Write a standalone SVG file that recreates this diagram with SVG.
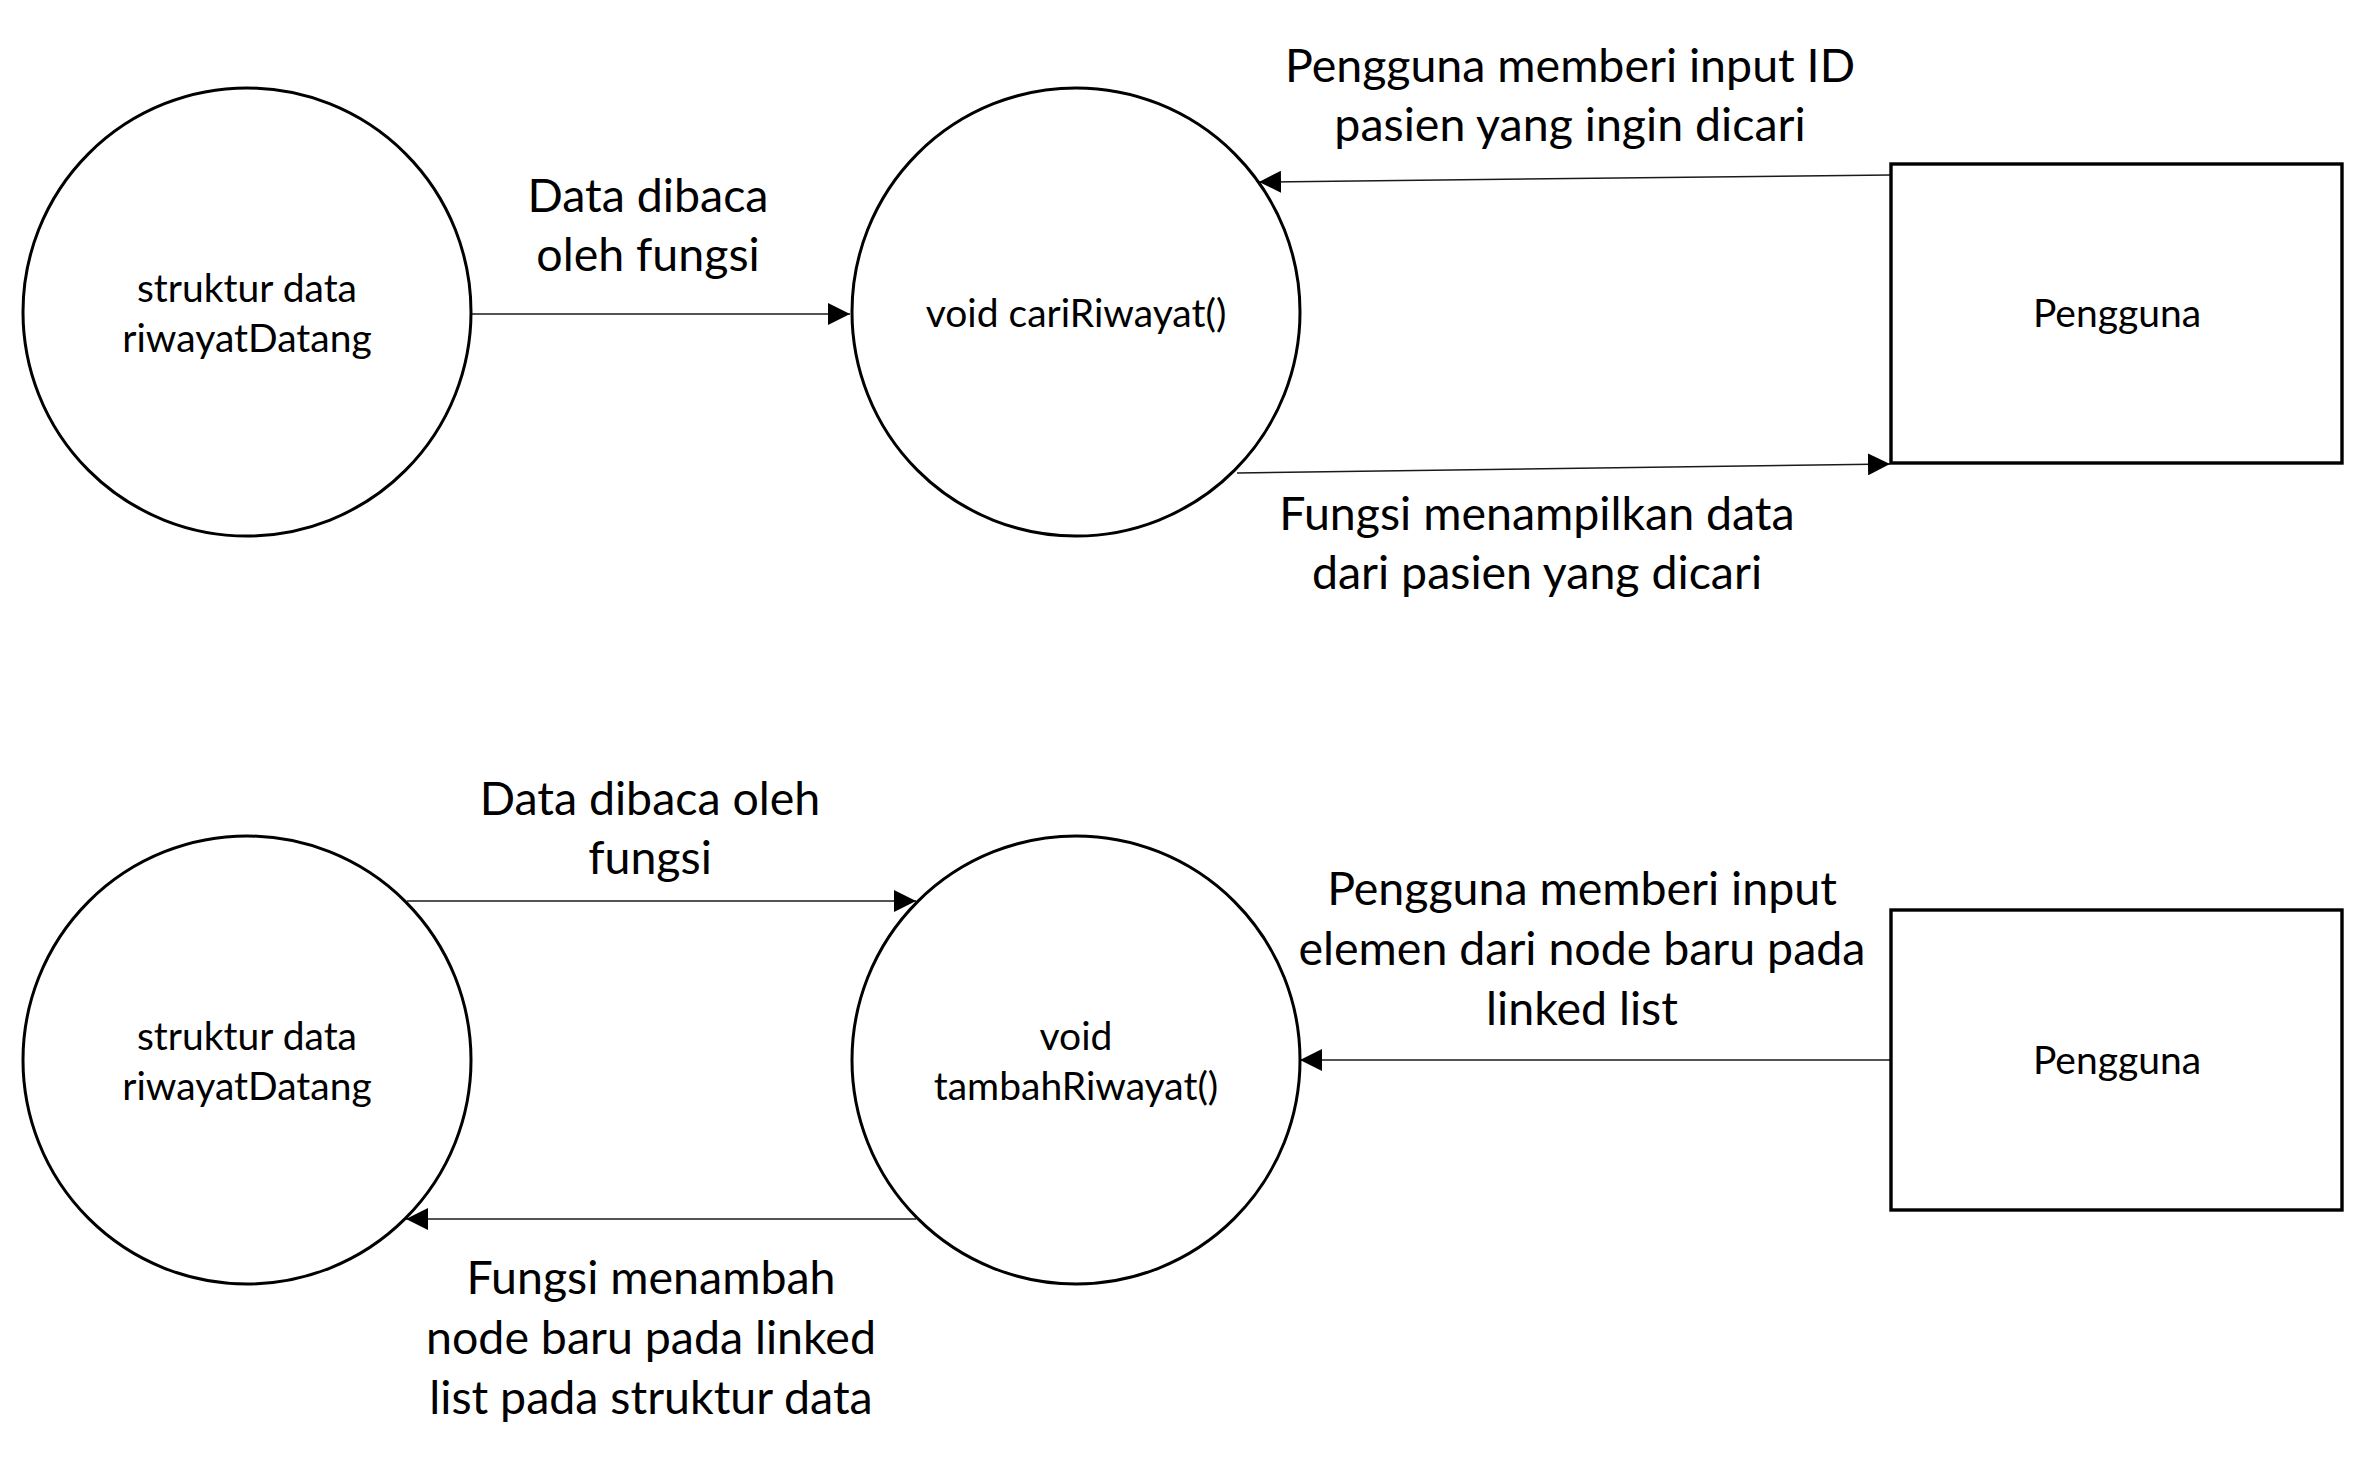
<svg xmlns="http://www.w3.org/2000/svg" width="2363" height="1473" viewBox="0 0 2363 1473">
<style>
.bg{fill:#ffffff}
.proc{fill:#ffffff;stroke:#000000;stroke-width:3}
.ent{fill:#ffffff;stroke:#000000;stroke-width:3.4}
.conn{fill:none;stroke:#1a1a1a;stroke-width:1.5;marker-end:url(#arr)}
.nt{font-family:Lato,"Liberation Sans",sans-serif;font-size:39px;fill:#000000;text-anchor:middle}
.lt{font-family:Lato,"Liberation Sans",sans-serif;font-size:46.5px;fill:#000000;text-anchor:middle}
</style>
<defs>
<marker id="arr" viewBox="0 0 22 22" refX="22" refY="11" markerWidth="22" markerHeight="22" markerUnits="userSpaceOnUse" orient="auto">
<path d="M0,0 L22,11 L0,22 Z" fill="#000000"/>
</marker>
</defs>
<rect class="bg" x="0" y="0" width="2363" height="1473"/>
<g id="connectors">
<line class="conn" x1="472" y1="314" x2="850" y2="314"/>
<line class="conn" x1="1890" y1="175" x2="1259" y2="182"/>
<line class="conn" x1="1237" y1="473" x2="1890" y2="464"/>
<line class="conn" x1="407" y1="901" x2="916" y2="901"/>
<line class="conn" x1="916" y1="1219" x2="406" y2="1219"/>
<line class="conn" x1="1891" y1="1060" x2="1300" y2="1060"/>
</g>
<g id="labels">
<text class="lt" x="648" y="212">Data dibaca</text>
<text class="lt" x="648" y="271">oleh fungsi</text>
<text class="lt" x="1570" y="82">Pengguna memberi input ID</text>
<text class="lt" x="1570" y="141">pasien yang ingin dicari</text>
<text class="lt" x="1537" y="530">Fungsi menampilkan data</text>
<text class="lt" x="1537" y="589">dari pasien yang dicari</text>
<text class="lt" x="650" y="815">Data dibaca oleh</text>
<text class="lt" x="650" y="874">fungsi</text>
<text class="lt" x="1582" y="905">Pengguna memberi input</text>
<text class="lt" x="1582" y="965">elemen dari node baru pada</text>
<text class="lt" x="1582" y="1025">linked list</text>
<text class="lt" x="651" y="1294">Fungsi menambah</text>
<text class="lt" x="651" y="1354">node baru pada linked</text>
<text class="lt" x="651" y="1414">list pada struktur data</text>
</g>
<g id="node-struktur-1">
<circle class="proc" cx="247" cy="312" r="224"/>
<text class="nt" x="247" y="302">struktur data</text>
<text class="nt" x="247" y="352">riwayatDatang</text>
</g>
<g id="node-cariRiwayat">
<circle class="proc" cx="1076" cy="312" r="224"/>
<text class="nt" x="1076" y="327">void cariRiwayat()</text>
</g>
<g id="node-pengguna-1">
<rect class="ent" x="1891" y="164" width="451" height="299"/>
<text class="nt" x="2117" y="327">Pengguna</text>
</g>
<g id="node-struktur-2">
<circle class="proc" cx="247" cy="1060" r="224"/>
<text class="nt" x="247" y="1050">struktur data</text>
<text class="nt" x="247" y="1100">riwayatDatang</text>
</g>
<g id="node-tambahRiwayat">
<circle class="proc" cx="1076" cy="1060" r="224"/>
<text class="nt" x="1076" y="1050">void</text>
<text class="nt" x="1076" y="1100">tambahRiwayat()</text>
</g>
<g id="node-pengguna-2">
<rect class="ent" x="1891" y="910" width="451" height="300"/>
<text class="nt" x="2117" y="1074">Pengguna</text>
</g>
</svg>
